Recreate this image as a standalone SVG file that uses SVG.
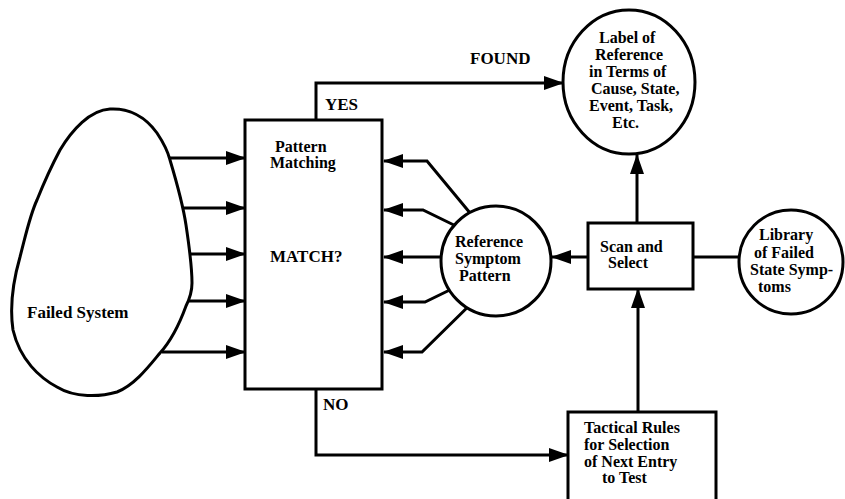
<svg xmlns="http://www.w3.org/2000/svg" width="845" height="499" viewBox="0 0 845 499">
  <style>
    .ln { fill: none; stroke: #000; stroke-width: 3; }
    .arr { fill: none; stroke: #000; stroke-width: 3; marker-end: url(#ah); }
    .shape { fill: #fff; stroke: #000; stroke-width: 3; }
    text { font-family: "Liberation Serif", "Times New Roman", serif; font-weight: bold; font-size: 16px; fill: #000; }
    .big { font-size: 17px; }
  </style>
  <defs>
    <marker id="ah" markerUnits="userSpaceOnUse" markerWidth="20" markerHeight="14" refX="19" refY="7" orient="auto">
      <path d="M0,0 L20,7 L0,14 Z" fill="#000"/>
    </marker>
  </defs>
  <rect width="845" height="499" fill="#fff"/>

  <g id="connectors">
    <!-- failed system outputs into the matcher -->
    <line class="arr" x1="168" y1="158" x2="245" y2="158"/>
    <line class="arr" x1="184" y1="208" x2="245" y2="208"/>
    <line class="arr" x1="190" y1="254" x2="245" y2="254"/>
    <line class="arr" x1="188" y1="301" x2="245" y2="301"/>
    <line class="arr" x1="162" y1="352" x2="245" y2="352"/>
    <!-- reference pattern fan-in -->
    <polyline class="arr" points="480,225 427,161 384,161"/>
    <polyline class="arr" points="460,228 423,210 384,210"/>
    <polyline class="arr" points="460,257 384,257"/>
    <polyline class="arr" points="460,285 425,302 384,302"/>
    <polyline class="arr" points="480,295 422,352 384,352"/>
    <!-- YES / FOUND -->
    <polyline class="arr" points="316,120 316,83 563,83"/>
    <!-- NO -->
    <polyline class="arr" points="316,389 316,455 568,455"/>
    <!-- scan & select links -->
    <line class="arr" x1="588" y1="257" x2="552" y2="257"/>
    <line class="ln" x1="693" y1="257" x2="745" y2="257"/>
    <line class="arr" x1="637" y1="223" x2="637" y2="155"/>
    <line class="arr" x1="638" y1="412" x2="638" y2="289"/>
  </g>

  <g id="failed-system">
    <path class="shape" d="M110,109 C128,108 145,116 157,133 C165,145 168,152 170,160 C176,180 183,205 186,225 C189,245 192,265 192,283 C192,293 189,300 186,306 C178,328 170,342 160,353 C150,365 135,385 117,392 C100,397 75,398 57,387 C40,378 20,360 13,330 C10,310 12,285 20,257 C27,230 30,215 37,200 C45,180 52,165 60,150 C72,130 90,110 110,109 Z"/>
    <text class="big" x="27" y="318">Failed System</text>
  </g>

  <g id="pattern-matching">
    <rect class="shape" x="245" y="120" width="137" height="269"/>
    <text x="275" y="152">Pattern</text>
    <text x="270" y="168">Matching</text>
    <text class="big" x="270" y="262">MATCH?</text>
  </g>

  <g id="labels">
    <text class="big" x="470" y="64">FOUND</text>
    <text class="big" x="325" y="110">YES</text>
    <text class="big" x="323" y="410">NO</text>
  </g>

  <g id="reference-pattern">
    <circle class="shape" cx="496" cy="261" r="55"/>
    <text x="455" y="247">Reference</text>
    <text x="455" y="264">Symptom</text>
    <text x="459" y="281">Pattern</text>
  </g>

  <g id="label-of-reference">
    <ellipse class="shape" cx="629" cy="82" rx="66" ry="72"/>
    <text x="599" y="43">Label of</text>
    <text x="595" y="60">Reference</text>
    <text x="589" y="77">in Terms of</text>
    <text x="591" y="94">Cause, State,</text>
    <text x="589" y="111">Event, Task,</text>
    <text x="612" y="128">Etc.</text>
  </g>

  <g id="scan-and-select">
    <rect class="shape" x="588" y="223" width="105" height="66"/>
    <text x="600" y="252">Scan and</text>
    <text x="608" y="268">Select</text>
  </g>

  <g id="library">
    <circle class="shape" cx="791" cy="262" r="52"/>
    <text x="759" y="240">Library</text>
    <text x="754" y="258">of Failed</text>
    <text x="750" y="275">State Symp-</text>
    <text x="758" y="292">toms</text>
  </g>

  <g id="tactical-rules">
    <rect class="shape" x="568" y="412" width="148" height="100"/>
    <text x="584" y="433">Tactical Rules</text>
    <text x="584" y="450">for Selection</text>
    <text x="584" y="467">of Next Entry</text>
    <text x="602" y="483">to Test</text>
  </g>
</svg>
